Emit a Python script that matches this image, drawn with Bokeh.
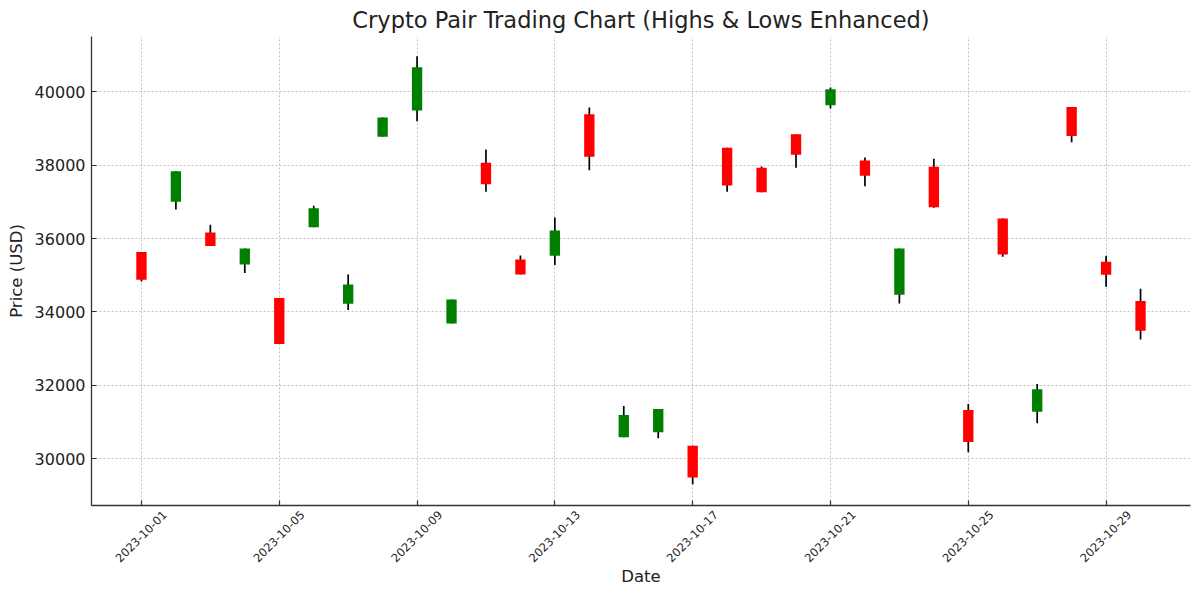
import numpy as np
import pandas as pd
from math import pi
from bokeh.plotting import figure
from bokeh.models import ColumnDataSource, FixedTicker, Range1d, LinearAxis
from bokeh.embed import file_html
from bokeh.resources import INLINE

dates = pd.date_range("2023-10-01", periods=30, freq="D")
open_ = [35633, 37004, 36168, 35297, 34380, 36313, 34225, 38774, 39492, 33689,
         38066, 35433, 35533, 39392, 30584, 30720, 30357, 38475, 37930, 38847,
         39637, 38130, 34470, 37957, 31329, 36550, 31283, 39591, 35369, 34298]
close = [34879, 37839, 35796, 35732, 33126, 36831, 34752, 39301, 40672, 34343,
         37485, 35024, 36223, 38229, 31192, 31356, 29485, 37448, 37267, 38284,
         40073, 37712, 35732, 36858, 30457, 35569, 31892, 38801, 35015, 33490]
high = [35633, 37839, 36377, 35732, 34380, 36895, 35024, 39301, 40972, 34343,
        38429, 35542, 36577, 39573, 31437, 31356, 30357, 38475, 37966, 38847,
        40118, 38211, 35732, 38175, 31492, 36550, 32037, 39591, 35533, 34634]
low = [34833, 36795, 35796, 35060, 33126, 36313, 34053, 38774, 39201, 33689,
       37276, 35024, 35278, 37866, 30584, 30557, 29304, 37276, 37267, 37930,
       39546, 37430, 34234, 36840, 30175, 35505, 30965, 38629, 34688, 33253]
y_ticks = [30000, 32000, 34000, 36000, 38000, 40000]

title_text = "Crypto Pair Trading Chart (Highs & Lows Enhanced)"
x_label = "Date"
y_label = "Price (USD)"

DAY = 86400000
o = np.array(open_)
c = np.array(close)
src = ColumnDataSource(dict(
    date=dates,
    open=o, close=c, high=np.array(high), low=np.array(low),
    top=np.maximum(o, c), bottom=np.minimum(o, c),
    color=np.where(c > o, "#008000", "#ff0000"),
))

t0 = dates[0].value // 10**6
t1 = dates[-1].value // 10**6
span = t1 - t0

FONT = "DejaVu Sans"
p = figure(width=1200, height=596, x_axis_type="datetime",
           output_backend="svg", toolbar_location=None,
           x_range=Range1d(t0 - 0.05 * span, t1 + 0.05 * span),
           y_range=Range1d(28725, 41510),
           min_border_left=91, min_border_right=10, min_border_top=36,
           min_border_bottom=91)

p.title.text = title_text
p.title.align = "center"
p.title.text_font = FONT
p.title.text_font_size = "22.5px"
p.title.text_font_style = "normal"
p.title.text_color = "#222222"
p.title.standoff = 7

p.outline_line_color = None
p.background_fill_color = "white"
p.border_fill_color = "white"

p.segment(x0="date", y0="high", x1="date", y1="low", source=src,
          line_color="black", line_width=1.7)
p.vbar(x="date", width=0.3 * DAY, top="top", bottom="bottom", source=src,
       fill_color="color", line_color=None)

tick_dates = dates[::4]
tick_ms = [d.value // 10**6 for d in tick_dates]
tick_text = [d.strftime("%Y-%m-%d") for d in tick_dates]

# main x axis: line + inward ticks, no labels
p.xaxis.ticker = FixedTicker(ticks=tick_ms)
p.xaxis.major_label_overrides = {t: "" for t in tick_ms}
p.xaxis.major_label_text_font_size = "0px"
p.xaxis.major_label_standoff = 0
p.xgrid.ticker = FixedTicker(ticks=tick_ms)

# label axis: rotated date labels, shifted so their centre sits under the tick
shift = int(0.667 * DAY)
lab_ticks = [t + shift for t in tick_ms]
lab_axis = LinearAxis(ticker=FixedTicker(ticks=lab_ticks),
                      major_label_overrides={t: s for t, s in zip(lab_ticks, tick_text)},
                      major_label_orientation=pi / 4,
                      axis_line_color=None, major_tick_line_color=None,
                      minor_tick_line_color=None,
                      major_tick_in=0, major_tick_out=0,
                      major_label_standoff=7,
                      major_label_text_font=FONT,
                      major_label_text_font_size="11.5px",
                      major_label_text_color="#222222",
                      axis_label=x_label, axis_label_standoff=-2,
                      axis_label_text_font=FONT,
                      axis_label_text_font_style="normal",
                      axis_label_text_font_size="16.5px",
                      axis_label_text_color="#222222")
p.add_layout(lab_axis, "below")

p.yaxis.ticker = FixedTicker(ticks=y_ticks)
p.yaxis.formatter.use_scientific = False

for ax in (p.xaxis[0], p.yaxis[0]):
    ax.axis_line_color = "#333333"
    ax.axis_line_width = 1.3
    ax.major_tick_in = 5
    ax.major_tick_out = 0
    ax.major_tick_line_color = "#333333"
    ax.major_tick_line_width = 1.2
    ax.minor_tick_line_color = None
    ax.major_label_text_font = FONT
    ax.major_label_text_color = "#222222"
    ax.axis_label_text_font = FONT
    ax.axis_label_text_font_style = "normal"
    ax.axis_label_text_color = "#222222"
    ax.axis_label_text_font_size = "16.5px"

p.yaxis.axis_label = y_label
p.yaxis.major_label_text_font_size = "16px"
p.yaxis.major_label_standoff = 6
p.yaxis.axis_label_standoff = 6

for g in (p.xgrid, p.ygrid):
    g.grid_line_color = "#b4b4b4"
    g.grid_line_dash = "2 2"
    g.grid_line_width = 0.8

open("out.html", "w").write(file_html(p, INLINE))
